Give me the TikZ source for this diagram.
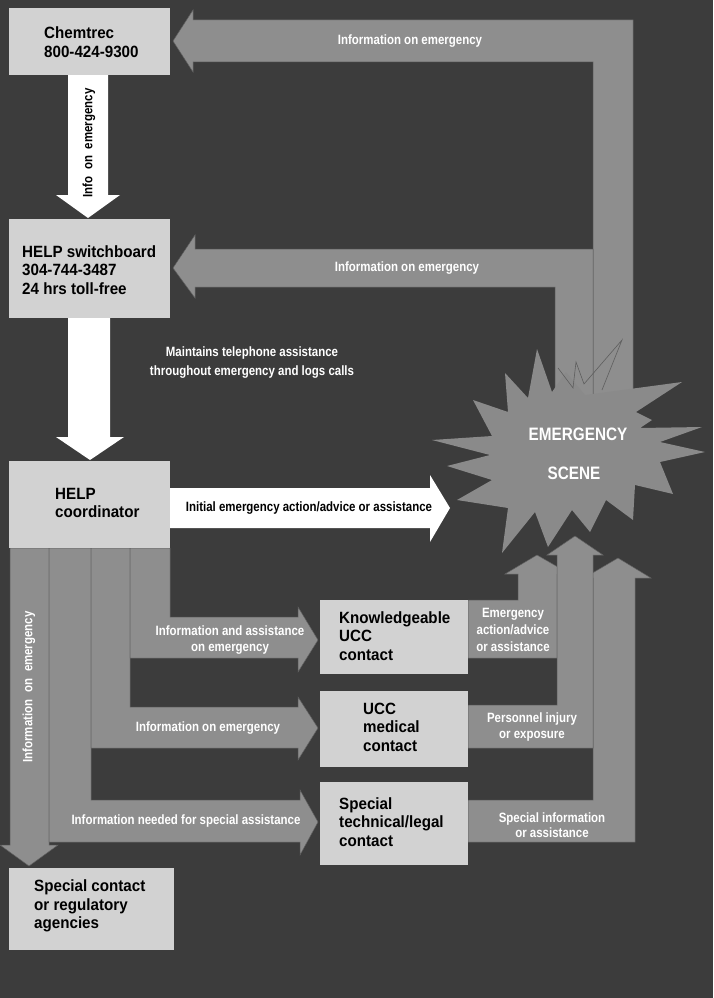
\documentclass[tikz,border=0pt]{standalone}
\usepackage{fontspec}
\setmainfont{Liberation Sans}[FakeStretch=0.93]
\newfontfamily\lblfont{Liberation Sans}[FakeStretch=0.85]
\definecolor{bgc}{HTML}{3C3C3C}
\definecolor{boxc}{HTML}{D2D2D2}
\definecolor{arrc}{HTML}{8E8E8E}
\definecolor{burstc}{HTML}{8A8A8A}
\definecolor{sepc}{HTML}{5E5E5E}
\begin{document}
\begin{tikzpicture}[x=1pt,y=-1pt,
  infobox/.style={fill=boxc, draw=none, inner sep=0pt, anchor=north west},
  boxtext/.style={font=\fontsize{16.3}{18.6}\selectfont\bfseries, align=left, anchor=west, inner sep=0pt, text=black},
  grayarrow/.style={fill=arrc, draw=sepc, line width=0.5pt, line join=miter},
  whitearrow/.style={fill=white, draw=none},
  lbl/.style={font=\lblfont\fontsize{13.5}{15.5}\selectfont\bfseries, text=white, align=center, inner sep=0pt},
  lblk/.style={lbl, text=black},
  scenetext/.style={font=\lblfont\fontsize{18}{20}\selectfont\bfseries, text=white, inner sep=0pt},
]
\useasboundingbox (0,0) rectangle (713,998);
\fill[bgc] (0,0) rectangle (713,998);

% feedback arrows from the emergency scene
\path[grayarrow] (633,430) -- (633,20) -- (193,20) -- (193,10) -- (173,41) -- (193,72) -- (193,62) -- (593,62) -- (593,430) -- cycle;
\path[grayarrow] (593,430) -- (593,249) -- (195,249) -- (195,235) -- (173,268) -- (195,298) -- (195,287) -- (555,287) -- (555,430) -- cycle;

% emergency scene starburst
\path[fill=burstc] (432,440) -- (492,436) -- (473,400) -- (508,412) -- (505,373) -- (528,398) -- (537,349) -- (552,392) -- (566,372) -- (585,395) -- (682,382) -- (636,412) -- (652,420) -- (640,428) -- (702,427) -- (660,442) -- (705,452) -- (660,462) -- (673,494) -- (635,485) -- (633,520) -- (606,500) -- (590,532) -- (572,510) -- (548,547) -- (535,512) -- (502,553) -- (508,508) -- (457,500) -- (492,480) -- (447,466) -- (490,455) -- cycle;
\draw[sepc, line width=0.6pt] (558,368) -- (573,388) -- (576,362) -- (584,384) -- (622,340) -- (602,390);

% bands from the coordinator
\path[grayarrow] (10,548) -- (49,548) -- (49,845) -- (58,845) -- (29,866) -- (0,845) -- (10,845) -- cycle;
\path[grayarrow] (49,548) -- (91,548) -- (91,800) -- (300,800) -- (300,790) -- (318,822) -- (300,855) -- (300,842) -- (49,842) -- cycle;
\path[grayarrow] (91,548) -- (130,548) -- (130,707) -- (298,707) -- (298,697) -- (318,728) -- (298,760) -- (298,748) -- (91,748) -- cycle;
\path[grayarrow] (130,548) -- (170,548) -- (170,617) -- (298,617) -- (298,607) -- (318,640) -- (298,672) -- (298,658) -- (130,658) -- cycle;

% up arrows to the scene
\path[grayarrow] (468,600) -- (518,600) -- (518,574) -- (505,574) -- (537,555) -- (570,574) -- (557,574) -- (557,658) -- (468,658) -- cycle;
\path[grayarrow] (468,800) -- (593,800) -- (593,578) -- (584,578) -- (618,558) -- (651,578) -- (635,578) -- (635,842) -- (468,842) -- cycle;
\path[grayarrow] (468,705) -- (557,705) -- (557,555) -- (547,555) -- (575,536) -- (603,555) -- (593,555) -- (593,748) -- (468,748) -- cycle;

% white arrows
\path[whitearrow] (68,75) -- (108,75) -- (108,195) -- (120,195) -- (88,218) -- (56,195) -- (68,195) -- cycle;
\path[whitearrow] (68,318) -- (110,318) -- (110,437) -- (124,437) -- (90,460) -- (56,437) -- (68,437) -- cycle;
\path[whitearrow] (170,488) -- (430,488) -- (430,475) -- (450,508) -- (430,542) -- (430,528) -- (170,528) -- cycle;

% boxes
\node[infobox, minimum width=161pt, minimum height=67pt] (chem) at (9,8) {};
\node[infobox, minimum width=161pt, minimum height=99pt] (switch) at (9,219) {};
\node[infobox, minimum width=161pt, minimum height=87pt] (coord) at (9,461) {};
\node[infobox, minimum width=148pt, minimum height=74pt] (know) at (320,600) {};
\node[infobox, minimum width=148pt, minimum height=76pt] (med) at (320,691) {};
\node[infobox, minimum width=148pt, minimum height=83pt] (tech) at (320,782) {};
\node[infobox, minimum width=165pt, minimum height=82pt] (spec) at (9,868) {};

\node[boxtext] (chemt) at (44,42) {Chemtrec\\800-424-9300};
\node[boxtext] (switcht) at (22,270) {HELP switchboard\\304-744-3487\\24 hrs toll-free};
\node[boxtext] (coordt) at (55,503) {HELP\\coordinator};
\node[boxtext] (knowt) at (339,636) {Knowledgeable\\UCC\\contact};
\node[boxtext] (medt) at (363,727) {UCC\\medical\\contact};
\node[boxtext] (techt) at (339,822) {Special\\technical/legal\\contact};
\node[boxtext] (spect) at (34,906) {Special contact\\or regulatory\\agencies};

% labels
\node[lbl] (l1) at (410,41) {Information on emergency};
\node[lblk, rotate=90] (l2) at (89,143) {Info\enspace on\enspace emergency};
\node[lbl] (l3) at (407,268) {Information on emergency};
\node[lbl, font=\lblfont\fontsize{13.5}{19}\selectfont\bfseries] (l4) at (252,363) {Maintains telephone assistance\\throughout emergency and logs calls};
\node[lblk] (l5) at (309,508) {Initial emergency action/advice or assistance};
\node[scenetext] (s1) at (578,434) {EMERGENCY};
\node[scenetext] (s2) at (574,473) {SCENE};
\node[lbl] (l6) at (230,640) {Information and assistance\\on emergency};
\node[lbl] (l7) at (208,728) {Information on emergency};
\node[lbl] (l8) at (186,821) {Information needed for special assistance};
\node[lbl, rotate=90] (l9) at (29,687) {Information\enspace on\enspace emergency};
\node[lbl, font=\lblfont\fontsize{13.5}{17}\selectfont\bfseries] (l10) at (513,630) {Emergency\\action/advice\\or assistance};
\node[lbl] (l11) at (532,727) {Personnel injury\\or exposure};
\node[lbl] (l12) at (552,825) {Special information\\or assistance};
\end{tikzpicture}
\end{document}
